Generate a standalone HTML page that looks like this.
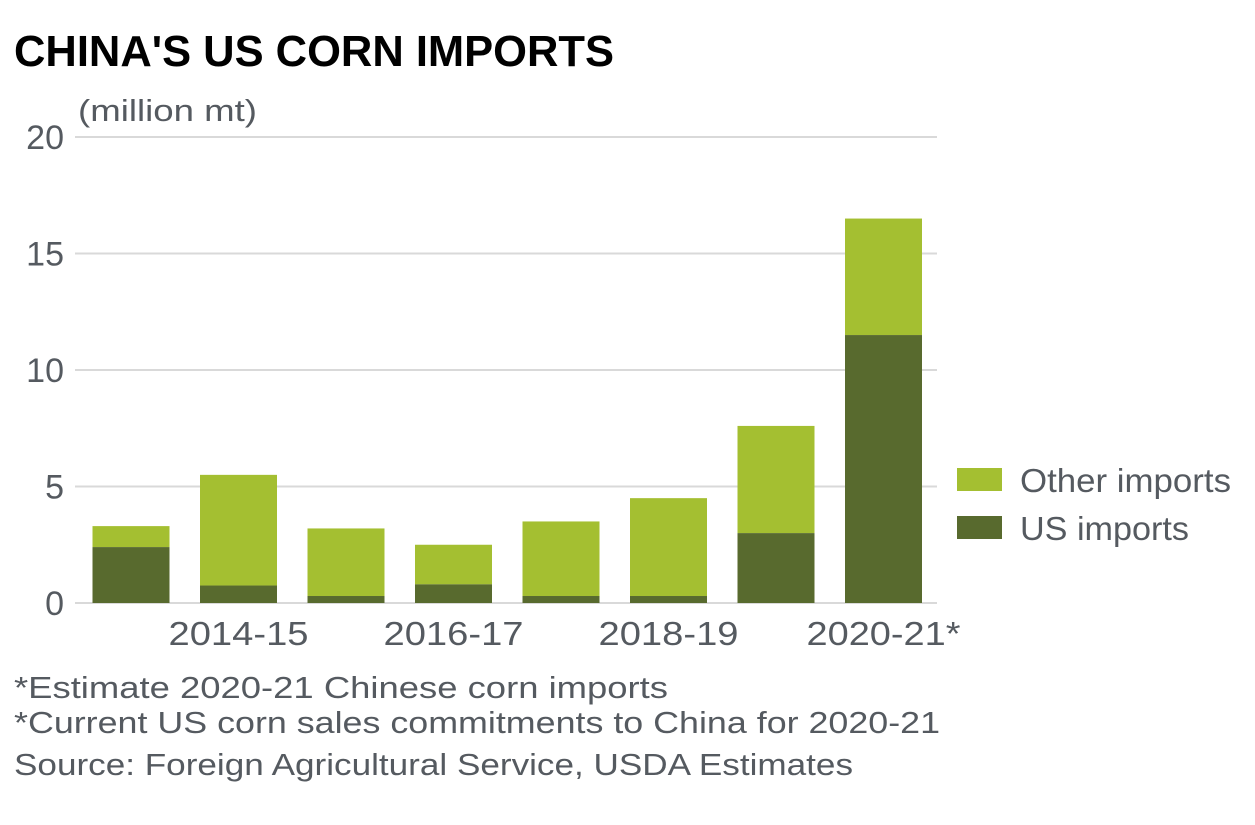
<!DOCTYPE html>
<html><head><meta charset="utf-8"><style>
body{margin:0;background:#fff;width:1255px;height:820px;overflow:hidden;font-family:"Liberation Sans",sans-serif}
svg text{font-family:"Liberation Sans",sans-serif}
</style></head><body>
<svg width="1255" height="820">
<text x="14" y="66" font-size="44" font-weight="bold" fill="#000" textLength="600" lengthAdjust="spacingAndGlyphs">CHINA'S US CORN IMPORTS</text>
<text x="78" y="121" font-size="31" fill="#555a60" textLength="179" lengthAdjust="spacingAndGlyphs">(million mt)</text>
<g id="grid"></g><g id="bars"></g><g id="xlabels"></g>
<rect x="957" y="468" width="45" height="23" fill="#a4bf31"/>
<text x="1020" y="492" font-size="33" fill="#555a60" textLength="211" lengthAdjust="spacingAndGlyphs">Other imports</text>
<rect x="957" y="516" width="45" height="23" fill="#586a2e"/>
<text x="1020" y="540" font-size="33" fill="#555a60" textLength="169" lengthAdjust="spacingAndGlyphs">US imports</text>
<text x="14" y="698" font-size="31" fill="#555a60" textLength="654" lengthAdjust="spacingAndGlyphs">*Estimate 2020-21 Chinese corn imports</text>
<text x="14" y="733" font-size="31" fill="#555a60" textLength="926" lengthAdjust="spacingAndGlyphs">*Current US corn sales commitments to China for 2020-21</text>
<text x="14" y="775" font-size="31" fill="#555a60" textLength="839" lengthAdjust="spacingAndGlyphs">Source: Foreign Agricultural Service, USDA Estimates</text>
</svg>
<script>
const categories=["2013-14","2014-15","2015-16","2016-17","2017-18","2018-19","2019-20","2020-21*"];
const usImports=[2.4,0.75,0.3,0.8,0.3,0.3,3.0,11.5];
const totalImports=[3.3,5.5,3.2,2.5,3.5,4.5,7.6,16.5];
const yTicks=[0,5,10,15,20];
const xLabelShown=[false,true,false,true,false,true,false,true];
const NS="http://www.w3.org/2000/svg";
const y0=603,y20=137,left=75,right=937,bw=77,step=107.5,c0=131;
const y=v=>y0-(y0-y20)*v/20;
const x=i=>c0+i*step;
function mk(t,a,p){const e=document.createElementNS(NS,t);for(const k in a)e.setAttribute(k,a[k]);p.appendChild(e);return e;}
const g=document.getElementById('grid');
yTicks.forEach(t=>{
 const l=mk('line',{x1:left,x2:right,y1:y(t),y2:y(t),stroke:'#d9d9d9','stroke-width':2},g);
 
 
 const tx=mk('text',{x:64,y:y(t)+12,'font-size':34,fill:'#555a60','text-anchor':'end'},g);
 tx.textContent=t;
 
 
});
const b=document.getElementById('bars');
categories.forEach((c,i)=>{
 const o=mk('rect',{x:x(i)-bw/2,y:y(totalImports[i]),width:bw,height:y(usImports[i])-y(totalImports[i]),fill:'#a4bf31'},b);
 
 
 const u=mk('rect',{x:x(i)-bw/2,y:y(usImports[i]),width:bw,height:y0-y(usImports[i]),fill:'#586a2e'},b);
 
 
 if(xLabelShown[i]){
  const star=c.endsWith('*');
  const w=star?154:140;
  const t=mk('text',{x:x(i)-(star?77:70),y:645,'font-size':33,fill:'#555a60',textLength:w,lengthAdjust:'spacingAndGlyphs'},document.getElementById('xlabels'));
  t.textContent=c;
  
  
 }
});
</script>
</body></html>
